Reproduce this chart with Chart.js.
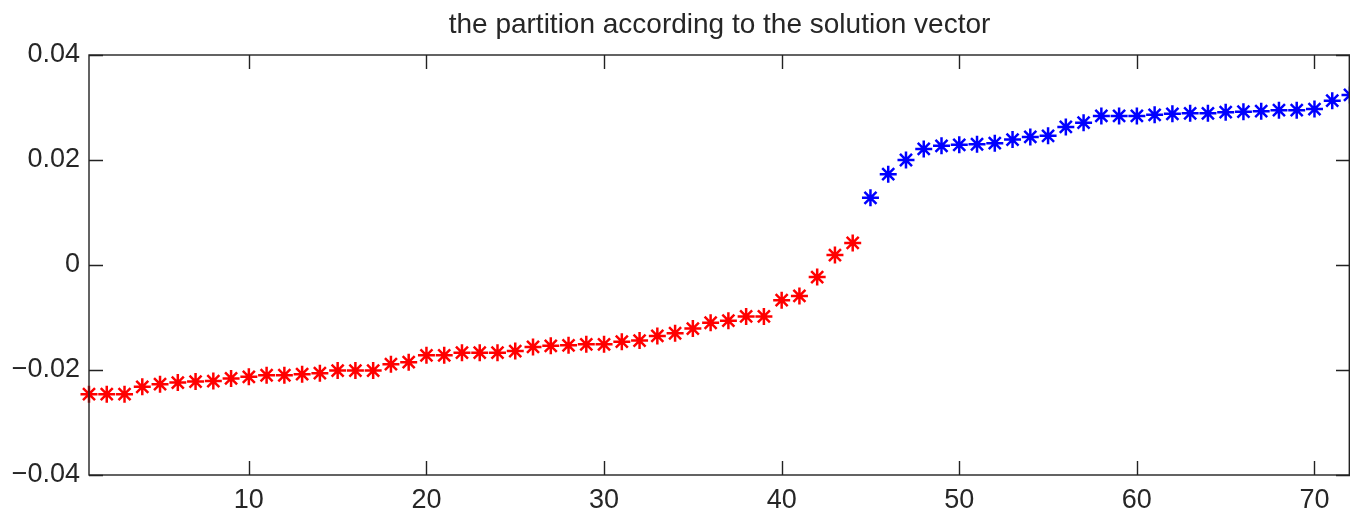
<!DOCTYPE html>
<html>
<head>
<meta charset="utf-8">
<script src="https://cdn.jsdelivr.net/npm/chart.js@4/dist/chart.umd.min.js"></script>
<style>
  html, body { margin: 0; padding: 0; background: #ffffff; }
  #wrap { width: 1350px; height: 516px; position: relative; }
</style>
</head>
<body>
<div id="wrap"><canvas id="c"></canvas></div>
<script>
const titleText = "the partition according to the solution vector";

// Group 1 (red): indices 1..44
const redX = [1,2,3,4,5,6,7,8,9,10,11,12,13,14,15,16,17,18,19,20,21,22,23,24,25,26,27,28,29,30,31,32,33,34,35,36,37,38,39,40,41,42,43,44];
const redY = [-0.0246,-0.0246,-0.0246,-0.0232,-0.0227,-0.0224,-0.0222,-0.0221,-0.0216,-0.0213,
              -0.0210,-0.0210,-0.0208,-0.0206,-0.0201,-0.0201,-0.0201,-0.0189,-0.0185,-0.0172,
              -0.0172,-0.0167,-0.0167,-0.0167,-0.0164,-0.0156,-0.0154,-0.0153,-0.0151,-0.0151,
              -0.0146,-0.0144,-0.0135,-0.0130,-0.0121,-0.0110,-0.0106,-0.0098,-0.0098,-0.0067,
              -0.0059,-0.0023,0.0019,0.0042];

// Group 2 (blue): indices 45..72
const blueX = [45,46,47,48,49,50,51,52,53,54,55,56,57,58,59,60,61,62,63,64,65,66,67,68,69,70,71,72];
const blueY = [0.0128,0.0173,0.0200,0.0221,0.0227,0.0229,0.0230,0.0232,0.0239,0.0244,
               0.0246,0.0263,0.0271,0.0284,0.0284,0.0284,0.0286,0.0288,0.0289,0.0289,
               0.0291,0.0292,0.0293,0.0295,0.0295,0.0297,0.0313,0.0324];

const xTicks = [10,20,30,40,50,60,70];
const yTicks = [-0.04,-0.02,0,0.02,0.04];
const yTickLabels = ["\u22120.04","\u22120.02","0","0.02","0.04"];

const toPts = (xs, ys) => xs.map((x, i) => ({x: x, y: ys[i]}));

const FONT = "'Liberation Sans', Arial, Helvetica, sans-serif";
const TEXT = "#262626";
const AXIS = "#222222";

const boxTicks = {
  id: 'boxTicks',
  afterDraw(chart) {
    const ctx = chart.ctx;
    const a = chart.chartArea;
    const xs = chart.scales.x, ys = chart.scales.y;
    ctx.save();
    ctx.strokeStyle = AXIS;
    ctx.lineWidth = 1.4;
    ctx.strokeRect(a.left, a.top, Math.min(a.right, 1349.3) - a.left, a.bottom - a.top);
    const L = 14;
    ctx.beginPath();
    xs.ticks.forEach(t => {
      const px = Math.round(xs.getPixelForValue(t.value)) + 0.5;
      ctx.moveTo(px, a.bottom); ctx.lineTo(px, a.bottom - L);
      ctx.moveTo(px, a.top); ctx.lineTo(px, a.top + L);
    });
    ys.ticks.forEach(t => {
      const py = Math.round(ys.getPixelForValue(t.value)) + 0.5;
      ctx.moveTo(a.left, py); ctx.lineTo(a.left + L, py);
      ctx.moveTo(a.right, py); ctx.lineTo(a.right - L, py);
    });
    ctx.stroke();
    ctx.restore();
  }
};

const starDataset = (pts, color) => ({
  data: pts,
  pointStyle: 'star',
  pointRadius: 8.5,
  pointHoverRadius: 8.5,
  borderColor: color,
  backgroundColor: color,
  pointBorderWidth: 2.5,
  showLine: false,
  clip: false
});

new Chart(document.getElementById('c'), {
  type: 'scatter',
  data: {
    datasets: [
      starDataset(toPts(redX, redY), '#ff0000'),
      starDataset(toPts(blueX, blueY), '#0000ff')
    ]
  },
  options: {
    responsive: true,
    maintainAspectRatio: false,
    animation: false,
    events: [],
    layout: { padding: { top: 0, left: 0, right: 0, bottom: 0 }, autoPadding: false },
    plugins: {
      legend: { display: false },
      tooltip: { enabled: false },
      title: {
        display: true,
        fullSize: false,
        text: titleText,
        color: TEXT,
        font: { family: FONT, size: 28, weight: 'normal', lineHeight: 1.2 },
        padding: { top: 8.5, bottom: 12.9 }
      }
    },
    scales: {
      x: {
        type: 'linear',
        min: 1,
        max: 72,
        afterBuildTicks: (s) => { s.ticks = xTicks.map(v => ({ value: v })); },
        afterFit: (s) => { s.height = 41; },
        grid: { display: false, drawTicks: false },
        border: { display: false },
        ticks: {
          color: TEXT,
          font: { family: FONT, size: 27 },
          padding: 9,
          maxRotation: 0,
          autoSkip: false,
          callback: (v) => String(v)
        }
      },
      y: {
        type: 'linear',
        min: -0.04,
        max: 0.04,
        afterBuildTicks: (s) => { s.ticks = yTicks.map(v => ({ value: v })); },
        afterFit: (s) => { s.width = 89; },
        grid: { display: false, drawTicks: false },
        border: { display: false },
        ticks: {
          color: TEXT,
          font: { family: FONT, size: 27 },
          padding: 9,
          autoSkip: false,
          callback: (v) => {
            const i = yTicks.findIndex(t => Math.abs(t - v) < 1e-9);
            return i >= 0 ? yTickLabels[i] : '';
          }
        }
      }
    }
  },
  plugins: [boxTicks]
});
</script>
</body>
</html>
